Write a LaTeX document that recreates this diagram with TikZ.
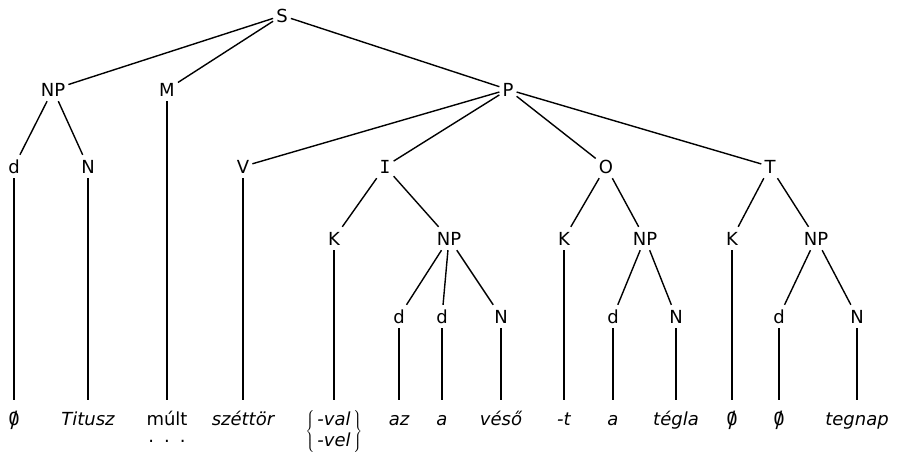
\documentclass[tikz,border=0pt]{standalone}
\usepackage{fontspec}
\setmainfont{DejaVu Sans}
\newfontfamily\monof{DejaVu Sans Mono}
\newcommand\nulsym{{\upshape\ooalign{\hfil0\hfil\cr\hidewidth\raisebox{-2pt}{\scalebox{1.1}[1.25]{/}}\hidewidth\cr}}}
\begin{document}
\begin{tikzpicture}[x=1pt,y=-1pt,
  lab/.style={anchor=base,font=\fontsize{18}{21.6}\selectfont,text height=13pt,text depth=0pt,inner xsep=3pt,inner ysep=5pt},
  wd/.style={anchor=base,font=\fontsize{18}{21.6}\selectfont\itshape,text height=13pt,text depth=4pt,inner xsep=2pt,inner ysep=12pt},
  edge/.style={line width=1.4pt}]
\useasboundingbox (0,0) rectangle (900,451);
% labels
\node[lab] (S) at (282,22) {S};
\node[lab] (NPa) at (53,96) {NP};
\node[lab] (M) at (167,96) {M};
\node[lab] (P) at (508,96) {P};
\node[lab] (da) at (14,173) {d};
\node[lab] (Na) at (88,173) {N};
\node[lab] (V) at (243,173) {V};
\node[lab] (I) at (385,173) {\monof I};
\node[lab] (O) at (606,173) {O};
\node[lab] (T) at (770,173) {T};
\node[lab] (Kb) at (334,245) {K};
\node[lab] (NPb) at (449,245) {NP};
\node[lab] (Kc) at (564,245) {K};
\node[lab] (NPc) at (645,245) {NP};
\node[lab] (Kd) at (732,245) {K};
\node[lab] (NPd) at (816,245) {NP};
\node[lab] (db1) at (399,323) {d};
\node[lab] (db2) at (442,323) {d};
\node[lab] (Nb) at (501,323) {N};
\node[lab] (dc) at (613,323) {d};
\node[lab] (Nc) at (676,323) {N};
\node[lab] (dd) at (779,323) {d};
\node[lab] (Nd) at (857,323) {N};
% words
\node[wd] (w1) at (14,425) {\nulsym};
\node[wd] (w2) at (88,425) {Titusz};
\node[wd] (w3) at (167,425) {\upshape\begin{tabular}[t]{@{}c@{}}múlt\\[-4pt].\hspace{10pt}.\hspace{10pt}.\end{tabular}};
\node[wd] (w4) at (243,425) {széttör};
\node[wd] (w5) at (334,425) {\raisebox{-11.3pt}{\renewcommand\arraystretch{0.85}$\left\{\,\begin{tabular}{@{}l@{}}-val\\[2pt]-vel\end{tabular}\,\right\}$}};
\node[wd] (w6) at (399,425) {az};
\node[wd] (w7) at (442,425) {a};
\node[wd] (w8) at (501,425) {véső};
\node[wd] (w9) at (564,425) {-t};
\node[wd] (w10) at (613,425) {a};
\node[wd] (w11) at (676,425) {tégla};
\node[wd] (w12) at (732,425) {\nulsym};
\node[wd] (w13) at (779,425) {\nulsym};
\node[wd] (w14) at (857,425) {tegnap};
% edges
\draw[edge] (S) -- (NPa);
\draw[edge] (S) -- (M);
\draw[edge] (S) -- (P);
\draw[edge] (NPa) -- (da);
\draw[edge] (NPa) -- (Na);
\draw[edge] (da) -- (w1);
\draw[edge] (Na) -- (w2);
\draw[edge] (M) -- (w3);
\draw[edge] (P) -- (V);
\draw[edge] (P) -- (I);
\draw[edge] (P) -- (O);
\draw[edge] (P) -- (T);
\draw[edge] (V) -- (w4);
\draw[edge] (I) -- (Kb);
\draw[edge] (I) -- (NPb);
\draw[edge] (Kb) -- (w5);
\draw[edge] (NPb) -- (db1);
\draw[edge] (NPb) -- (db2);
\draw[edge] (NPb) -- (Nb);
\draw[edge] (db1) -- (w6);
\draw[edge] (db2) -- (w7);
\draw[edge] (Nb) -- (w8);
\draw[edge] (O) -- (Kc);
\draw[edge] (O) -- (NPc);
\draw[edge] (Kc) -- (w9);
\draw[edge] (NPc) -- (dc);
\draw[edge] (NPc) -- (Nc);
\draw[edge] (dc) -- (w10);
\draw[edge] (Nc) -- (w11);
\draw[edge] (T) -- (Kd);
\draw[edge] (T) -- (NPd);
\draw[edge] (Kd) -- (w12);
\draw[edge] (NPd) -- (dd);
\draw[edge] (NPd) -- (Nd);
\draw[edge] (dd) -- (w13);
\draw[edge] (Nd) -- (w14);
\end{tikzpicture}
\end{document}
